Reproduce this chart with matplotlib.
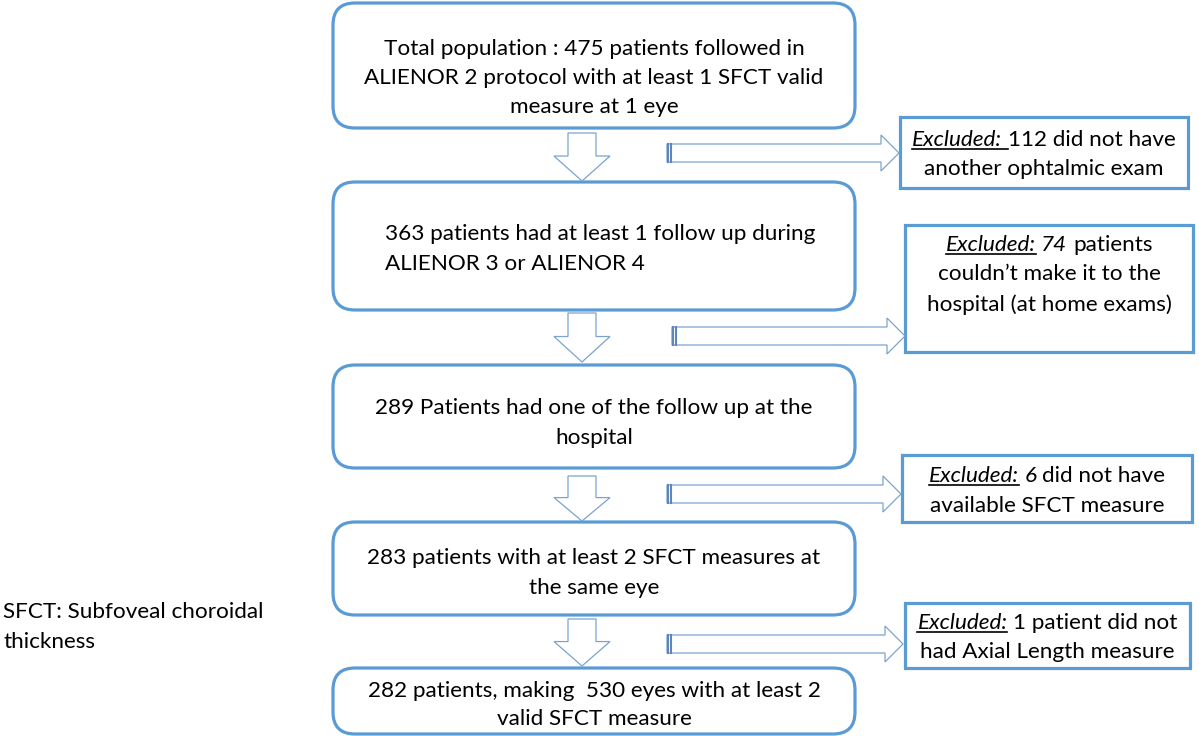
import matplotlib
matplotlib.use("Agg")
import matplotlib.pyplot as plt
from matplotlib.patches import FancyBboxPatch, Rectangle, Polygon

# texts of the flowchart
main_lines = [
    ["Total population : 475 patients followed in",
     "ALIENOR 2 protocol with at least 1 SFCT valid",
     "measure at 1 eye"],
    ["363 patients had at least 1 follow up during",
     "ALIENOR 3 or ALIENOR 4"],
    ["289 Patients had one of the follow up at the",
     "hospital"],
    ["283 patients with at least 2 SFCT measures at",
     "the same eye"],
    ["282 patients, making  530 eyes with at least 2",
     "valid SFCT measure"],
]
main_align = ["center", "left", "center", "center", "center"]

# parts: (text, style)  n = normal, i = italic, u = italic + underline
excl_lines = [
    [[("Excluded: ", "u"), ("112 did not have", "n")],
     [("another ophtalmic exam", "n")]],
    [[("Excluded:", "u"), (" 74", "i"), (" patients", "n")],
     [("couldn\u2019t make it to the", "n")],
     [("hospital (at home exams)", "n")]],
    [[("Excluded:", "u"), (" 6", "i"), (" did not have", "n")],
     [("available SFCT measure", "n")]],
    [[("Excluded:", "u"), (" 1 patient did not", "n")],
     [("had Axial Length measure", "n")]],
]
note_lines = ["SFCT: Subfoveal choroidal", "thickness"]

# layout (pixels)
FONT = "Lato"
FS = 16.2
BLUE = "#5b9bd5"
ACOL = "#7ba3d0"
main_boxes = [(333, 3, 855, 128), (333, 182, 855, 310), (333, 365, 855, 468),
              (333, 522, 855, 615), (333, 668, 855, 734)]
main_base = [[55, 84, 113], [240, 270], [414, 444], [564, 594], [697, 725]]
excl_boxes = [(900, 117, 1188, 188), (905, 225, 1193, 352),
              (902, 455, 1192, 522), (905, 603, 1190, 668)]
excl_base = [[146, 175], [251, 280, 311], [482, 512], [629, 658]]
down_y = [(133, 181), (313, 362), (476, 521), (619, 666)]
right_y = [153, 336, 494, 644]
right_x = [(667, 899), (672, 905), (667, 901), (667, 903)]

fig = plt.figure(figsize=(11.99, 7.36), dpi=100)
ax = fig.add_axes([0, 0, 1, 1])
ax.set_xlim(0, 1199)
ax.set_ylim(736, 0)
ax.axis("off")
rend = fig.canvas.get_renderer()


def text_w(s, style):
    t = ax.text(0, 0, s, fontsize=FS, family=FONT,
                style="italic" if style in ("i", "u") else "normal")
    w = t.get_window_extent(rend).width
    t.remove()
    return w


SP = text_w("x x", "n") - text_w("xx", "n")

for (x0, y0, x1, y1), lines, al, bases in zip(main_boxes, main_lines, main_align, main_base):
    ax.add_patch(FancyBboxPatch((x0, y0), x1 - x0, y1 - y0,
                                boxstyle="round,pad=0,rounding_size=22",
                                fc="white", ec=BLUE, lw=2.3))
    for s, b in zip(lines, bases):
        if al == "left":
            ax.text(385, b, s, fontsize=FS, family=FONT, ha="left", va="baseline")
        else:
            ax.text(594, b, s, fontsize=FS, family=FONT, ha="center", va="baseline")

for (x0, y0, x1, y1), lines, bases in zip(excl_boxes, excl_lines, excl_base):
    ax.add_patch(Rectangle((x0, y0), x1 - x0, y1 - y0, fc="white", ec=BLUE, lw=2.3))
    xc = (x0 + x1) / 2
    for parts, b in zip(lines, bases):
        widths = []
        for s, st in parts:
            core = s.strip()
            lead = len(s) - len(s.lstrip())
            trail = len(s) - len(s.rstrip())
            widths.append((lead, text_w(core, st), trail))
        total = sum(l * SP + w + t * SP for l, w, t in widths)
        x = xc - total / 2
        for (s, st), (l, w, t) in zip(parts, widths):
            x += l * SP
            ax.text(x, b, s.strip(), fontsize=FS, family=FONT, ha="left", va="baseline",
                    style="italic" if st in ("i", "u") else "normal")
            if st == "u":
                ax.plot([x, x + w + t * SP], [b + 3, b + 3], color="black", lw=1.2)
            x += w + t * SP

# down arrows
for ya, yb in down_y:
    xc = 582
    hy = ya + (yb - ya) * 0.48
    pts = [(xc - 14, ya), (xc + 14, ya), (xc + 14, hy), (xc + 28, hy), (xc, yb),
           (xc - 28, hy), (xc - 14, hy)]
    ax.add_patch(Polygon(pts, closed=True, fc="white", ec=ACOL, lw=0.9))

# right arrows
for yc, (xa, xb) in zip(right_y, right_x):
    hx = xb - 18
    pts = [(xa, yc - 9), (hx, yc - 9), (hx, yc - 18), (xb, yc), (hx, yc + 18),
           (hx, yc + 9), (xa, yc + 9)]
    ax.add_patch(Polygon(pts, closed=True, fc="white", ec=ACOL, lw=0.9))
    for dx in (0.5, 3.5):
        ax.plot([xa + dx, xa + dx], [yc - 9, yc + 9], color="#5f86b8", lw=1.5)

for s, b in zip(note_lines, [618, 648]):
    ax.text(3, b, s, fontsize=FS, family=FONT, ha="left", va="baseline")

fig.savefig("out.png", dpi=100)
